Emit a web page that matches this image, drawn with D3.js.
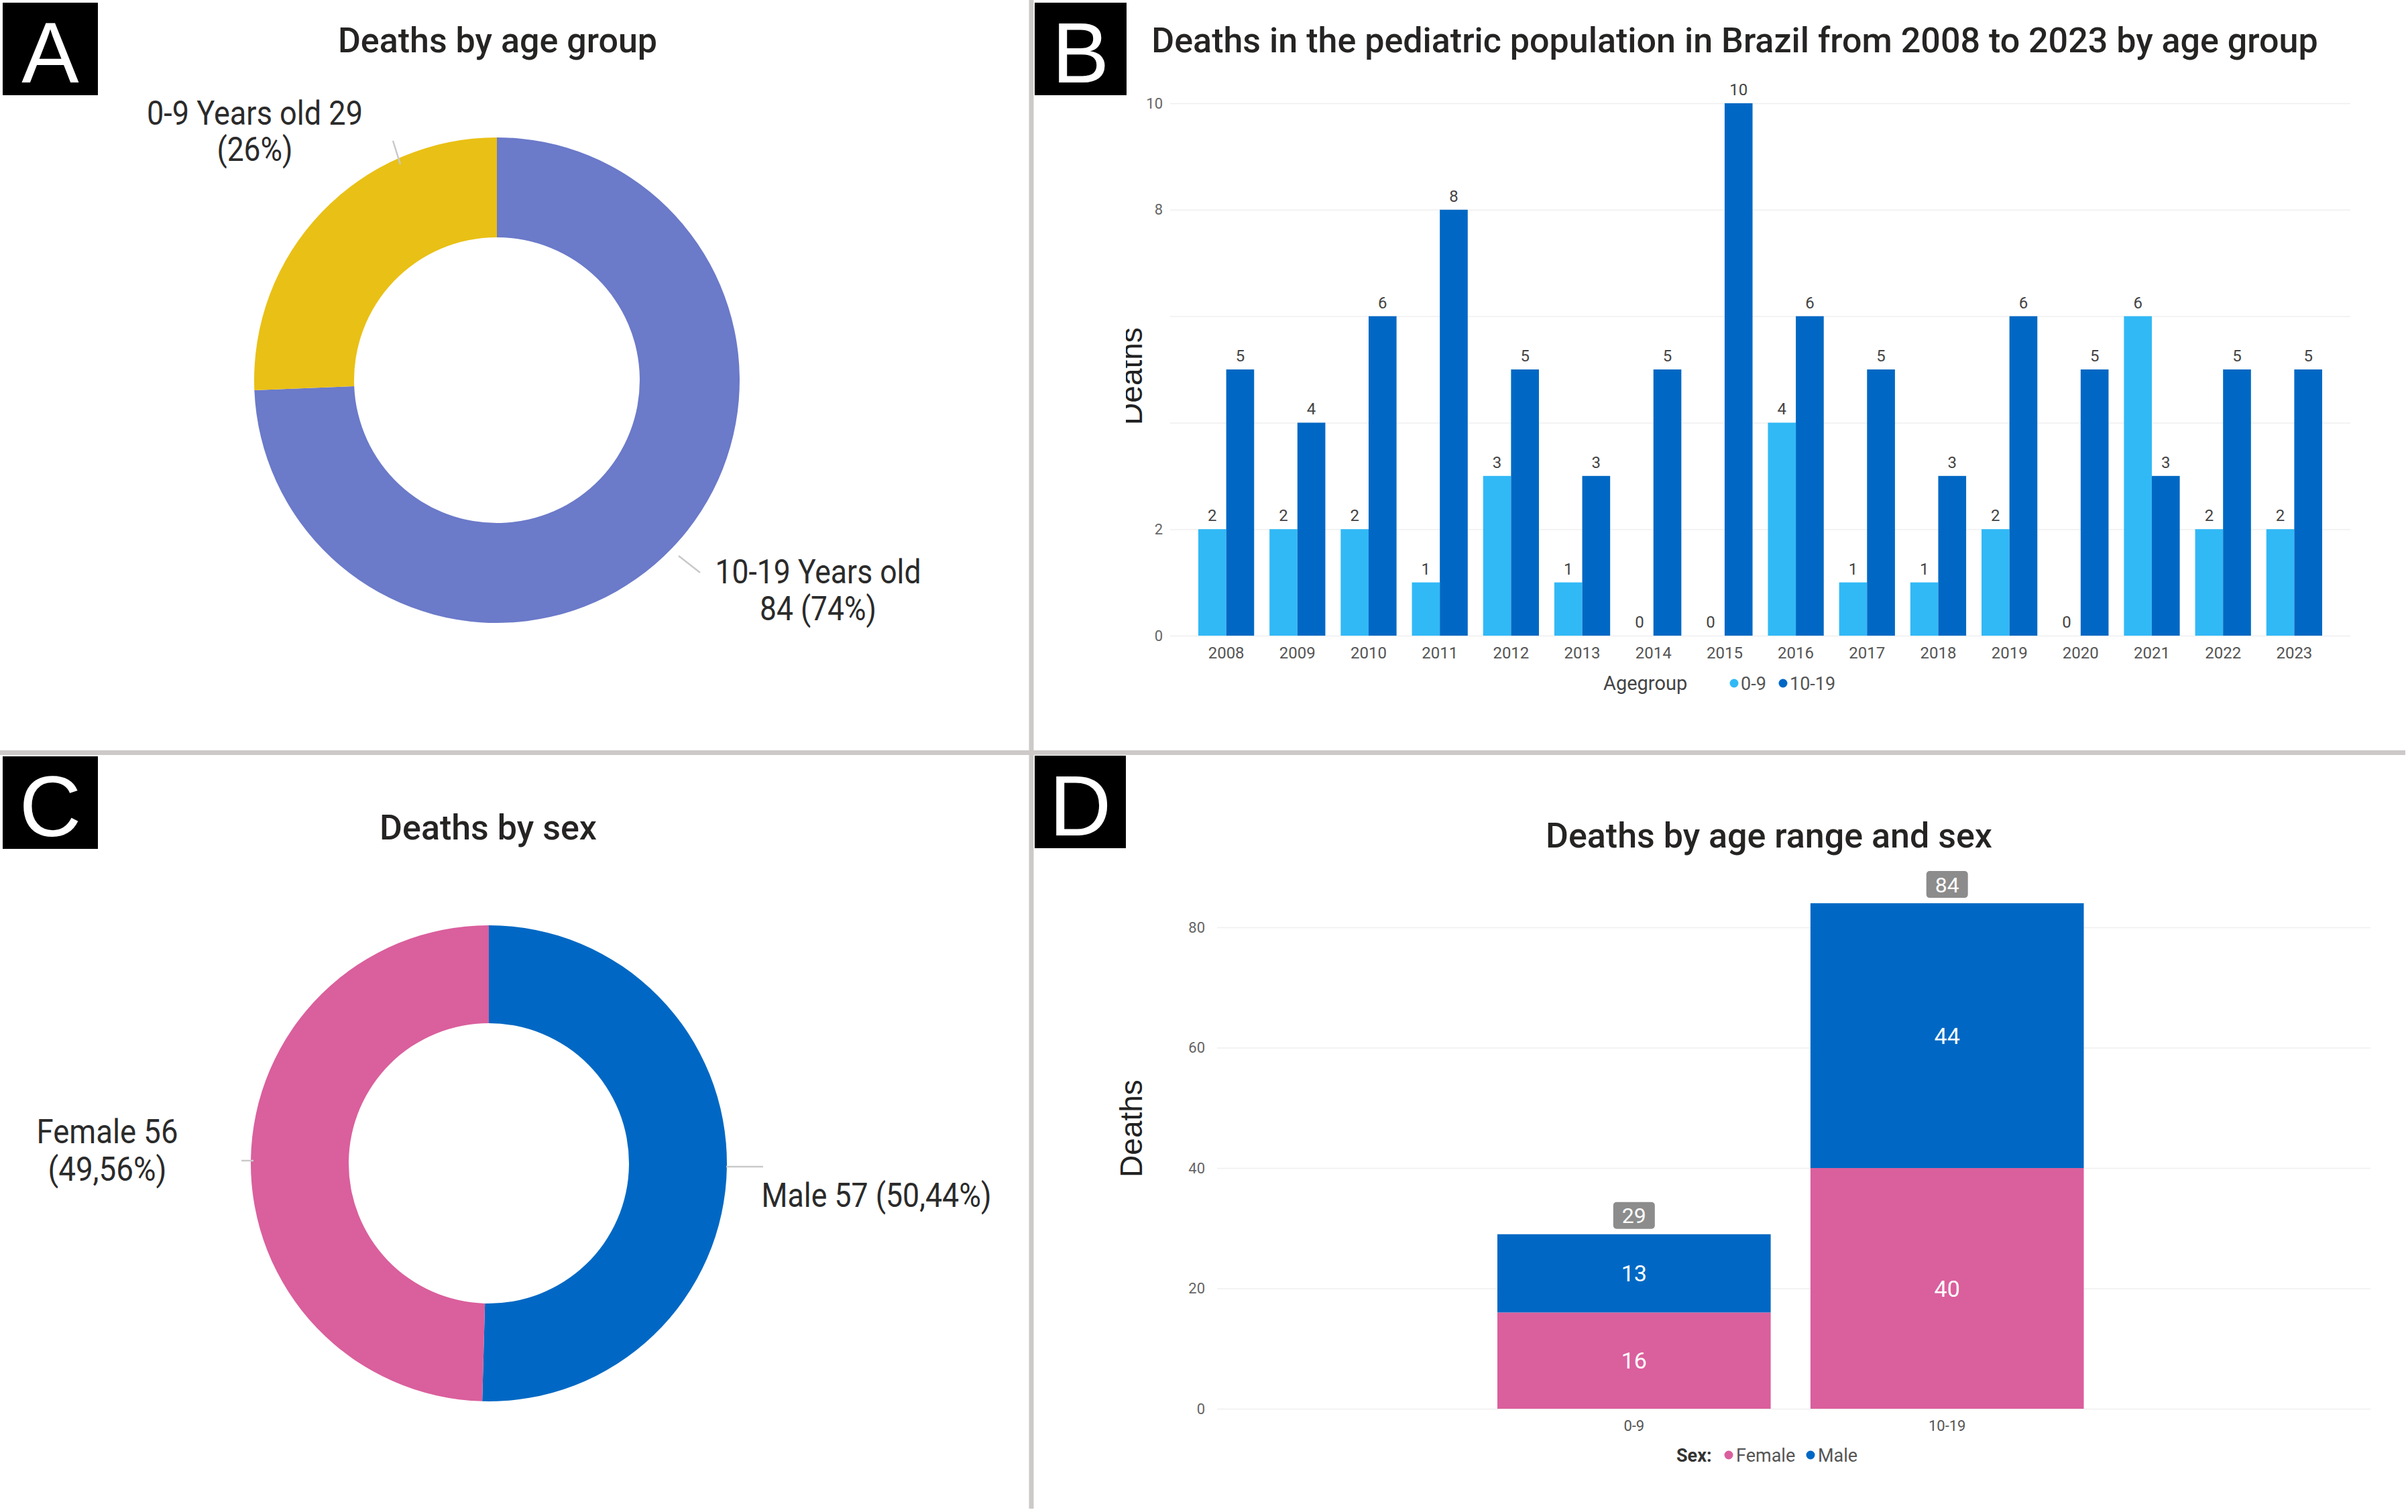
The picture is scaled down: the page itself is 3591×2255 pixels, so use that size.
<!DOCTYPE html>
<html>
<head>
<meta charset="utf-8">
<script src="https://cdn.jsdelivr.net/npm/d3@7"></script>
<style>
body { margin: 0; background: #fff; }
svg text { font-family: Roboto, "Liberation Sans", sans-serif; }
</style>
</head>
<body>
<div id="chart"></div>
<script>

var ageGroups = ["0-9", "10-19"];
var ageDeaths = [29, 84];
var agePct = ["26%", "74%"];

var sexes = ["Female", "Male"];
var sexDeaths = [56, 57];
var sexPct = ["49,56%", "50,44%"];

var years = ["2008", "2009", "2010", "2011", "2012", "2013", "2014", "2015",
             "2016", "2017", "2018", "2019", "2020", "2021", "2022", "2023"];
var deaths0to9   = [2, 2, 2, 1, 3, 1, 0, 0, 4, 1, 1, 2, 0, 6, 2, 2];
var deaths10to19 = [5, 4, 6, 8, 5, 3, 5, 10, 6, 5, 3, 6, 5, 3, 5, 5];
var yearTicks = [0, 2, 4, 6, 8, 10];
var yearTickLabels = ["0", "2", "", "", "8", "10"];

var femaleByAge = [16, 40];
var maleByAge = [13, 44];
var sexTicks = [0, 20, 40, 60, 80];

var w = 3591;
var h = 2255;
var colA = {"0-9": "#e9c015", "10-19": "#6b7ac9"};
var colSex = {"Female": "#da5f9d", "Male": "#0068c4"};
var colAge = {"0-9": "#31b9f6", "10-19": "#0068c4"};

var svg = d3.select("#chart")
    .append("svg")
    .attr("width", w)
    .attr("height", h);

svg.append("rect").attr("width", w).attr("height", h).attr("fill", "#fff");

// panel dividers
svg.append("line")
    .attr("x1", 1538).attr("x2", 1538).attr("y1", 0).attr("y2", 2250)
    .attr("stroke", "#cdc9c9").attr("stroke-width", 7);
svg.append("line")
    .attr("x1", 0).attr("x2", 3587).attr("y1", 1122.5).attr("y2", 1122.5)
    .attr("stroke", "#cdc9c9").attr("stroke-width", 7);

// panel letters
var letters = [
    {t: "A", x: 4, y: 4, w: 142},
    {t: "B", x: 1543, y: 4, w: 137},
    {t: "C", x: 4, y: 1128, w: 142},
    {t: "D", x: 1543, y: 1127, w: 136}
];
letters.forEach(function(l) {
    svg.append("rect")
        .attr("x", l.x).attr("y", l.y)
        .attr("width", l.w).attr("height", 138)
        .attr("fill", "#000");
    svg.append("text")
        .attr("x", l.x + l.w / 2).attr("y", l.y + 119)
        .attr("text-anchor", "middle")
        .attr("fill", "#fff")
        .attr("font-size", 128)
        .style("font-family", "'Liberation Sans', Arial, sans-serif")
        .text(l.t);
});

function title(txt, x, y) {
    svg.append("text")
        .attr("x", x).attr("y", y)
        .attr("text-anchor", "middle")
        .attr("fill", "#252423")
        .attr("font-size", 52)
        .attr("font-weight", 500)
        .text(txt);
}

title("Deaths by age group", 742, 78);
title("Deaths in the pediatric population in Brazil from 2008 to 2023 by age group", 2587, 78);
title("Deaths by sex", 728, 1252);
title("Deaths by age range and sex", 2638, 1264);

// ---------- A: donut by age group
var pie = d3.pie().sort(null).value(function(d) { return d.v; });

var dataA = [
    {k: ageGroups[1], v: ageDeaths[1]},
    {k: ageGroups[0], v: ageDeaths[0]}
];
var arcA = d3.arc().innerRadius(213).outerRadius(362);
var gA = svg.append("g").attr("transform", "translate(741,567)");
gA.selectAll("path")
    .data(pie(dataA))
    .enter()
    .append("path")
    .attr("d", arcA)
    .attr("fill", function(d) { return colA[d.data.k]; });

// donut labels: lines = [[text, width], ...]
function label(lines, x, y, lh) {
    var t = svg.append("text")
        .attr("fill", "#2b2b2b")
        .attr("font-size", 50)
        .attr("text-anchor", "middle");
    lines.forEach(function(s, i) {
        t.append("tspan")
            .attr("x", x).attr("y", y + i * lh)
            .attr("textLength", s[1])
            .attr("lengthAdjust", "spacingAndGlyphs")
            .text(s[0]);
    });
}

function leader(x1, y1, x2, y2) {
    svg.append("line")
        .attr("x1", x1).attr("y1", y1).attr("x2", x2).attr("y2", y2)
        .attr("stroke", "#c9c9c9").attr("stroke-width", 2.5);
}

label([[ageGroups[0] + " Years old " + ageDeaths[0], 322],
       ["(" + agePct[0] + ")", 113]], 380, 186, 54);
label([[ageGroups[1] + " Years old", 307],
       [ageDeaths[1] + " (" + agePct[1] + ")", 174]], 1220, 870, 55);
leader(586, 210, 597, 245);
leader(1012, 829, 1044, 854);

// ---------- C: donut by sex
var dataC = [
    {k: sexes[1], v: sexDeaths[1]},
    {k: sexes[0], v: sexDeaths[0]}
];
var arcC = d3.arc().innerRadius(209).outerRadius(355);
var gC = svg.append("g").attr("transform", "translate(729,1735)");
gC.selectAll("path")
    .data(pie(dataC))
    .enter()
    .append("path")
    .attr("d", arcC)
    .attr("fill", function(d) { return colSex[d.data.k]; });

label([[sexes[0] + " " + sexDeaths[0], 211],
       ["(" + sexPct[0] + ")", 177]], 160, 1705, 56);
label([[sexes[1] + " " + sexDeaths[1] + " (" + sexPct[1] + ")", 343]], 1307, 1800, 56);
leader(360, 1731, 378, 1731);
leader(1083, 1740, 1138, 1740);

// ---------- B: grouped bars by year
var xB = d3.scaleBand().domain(years).range([1787, 3463]).paddingInner(0.216);
var xSub = d3.scaleBand().domain(ageGroups).range([0, xB.bandwidth()]);
var yB = d3.scaleLinear().domain([0, 10]).range([948, 154]);

var yAxisB = d3.axisLeft(yB)
    .tickValues(yearTicks)
    .tickSize(-1760)
    .tickPadding(11)
    .tickFormat(function(d, i) { return yearTickLabels[i]; });

var gyB = svg.append("g")
    .attr("transform", "translate(1745,0)")
    .call(yAxisB);
gyB.select(".domain").remove();
gyB.selectAll("line").attr("stroke", "#efefef").attr("stroke-width", 1.5);
gyB.selectAll("text").attr("fill", "#666").attr("font-size", 22)
    .style("font-family", "Roboto, sans-serif");

var gxB = svg.append("g")
    .attr("transform", "translate(0,948)")
    .call(d3.axisBottom(xB).tickSize(0).tickPadding(17));
gxB.select(".domain").remove();
gxB.selectAll("text").attr("fill", "#555").attr("font-size", 24)
    .style("font-family", "Roboto, sans-serif");

var tableB = years.map(function(y, i) {
    return [{year: y, k: ageGroups[0], v: deaths0to9[i]},
            {year: y, k: ageGroups[1], v: deaths10to19[i]}];
});
var barsB = d3.merge(tableB);

svg.append("g").selectAll("rect")
    .data(barsB)
    .enter()
    .append("rect")
    .attr("x", function(d) { return xB(d.year) + xSub(d.k); })
    .attr("y", function(d) { return yB(d.v); })
    .attr("width", xSub.bandwidth())
    .attr("height", function(d) { return yB(0) - yB(d.v); })
    .attr("fill", function(d) { return colAge[d.k]; });

svg.append("g").selectAll("text")
    .data(barsB)
    .enter()
    .append("text")
    .attr("x", function(d) { return xB(d.year) + xSub(d.k) + xSub.bandwidth() / 2; })
    .attr("y", function(d) { return yB(d.v) - 12; })
    .attr("text-anchor", "middle")
    .attr("fill", "#444")
    .attr("font-size", 24)
    .text(function(d) { return d.v; });

// axis title is cut on its left side in the original
svg.append("clipPath").attr("id", "clipB")
    .append("rect").attr("x", 1679).attr("y", 400).attr("width", 60).attr("height", 300);
svg.append("g")
    .attr("clip-path", "url(#clipB)")
    .append("text")
    .attr("transform", "translate(1703,561) rotate(-90)")
    .attr("text-anchor", "middle")
    .attr("fill", "#222")
    .attr("font-size", 46)
    .style("font-family", "'Liberation Sans', Arial, sans-serif")
    .text("Deaths");

var legB = svg.append("g");
legB.append("text").attr("x", 2391).attr("y", 1029).attr("fill", "#444").attr("font-size", 29).text("Agegroup");
ageGroups.forEach(function(k, i) {
    var lx = [2586, 2659][i];
    legB.append("circle").attr("cx", lx).attr("cy", 1019).attr("r", 6.5).attr("fill", colAge[k]);
    legB.append("text").attr("x", lx + 10).attr("y", 1029).attr("fill", "#555").attr("font-size", 27).text(k);
});

// ---------- D: stacked bars by age and sex
var xD = d3.scaleBand().domain(ageGroups).range([2233, 3107.5]).paddingInner(0.127);
var yD = d3.scaleLinear().domain([0, 80]).range([2101, 1383]);

var yAxisD = d3.axisLeft(yD)
    .tickValues(sexTicks)
    .tickSize(-1720)
    .tickPadding(18);
var gyD = svg.append("g")
    .attr("transform", "translate(1815,0)")
    .call(yAxisD);
gyD.select(".domain").remove();
gyD.selectAll("line").attr("stroke", "#efefef").attr("stroke-width", 1.5);
gyD.selectAll("text").attr("fill", "#666").attr("font-size", 22)
    .style("font-family", "Roboto, sans-serif");

var gxD = svg.append("g")
    .attr("transform", "translate(0,2101)")
    .call(d3.axisBottom(xD).tickSize(0).tickPadding(17));
gxD.select(".domain").remove();
gxD.selectAll("text").attr("fill", "#555").attr("font-size", 22)
    .style("font-family", "Roboto, sans-serif");

var tableD = ageGroups.map(function(a, i) {
    return {age: a, Female: femaleByAge[i], Male: maleByAge[i]};
});
var stackD = d3.stack().keys(sexes)(tableD);

var layers = svg.append("g").selectAll("g")
    .data(stackD)
    .enter()
    .append("g")
    .attr("fill", function(d) { return colSex[d.key]; });

layers.selectAll("rect")
    .data(function(d) { return d; })
    .enter()
    .append("rect")
    .attr("x", function(d) { return xD(d.data.age); })
    .attr("y", function(d) { return yD(d[1]); })
    .attr("width", xD.bandwidth())
    .attr("height", function(d) { return yD(d[0]) - yD(d[1]); });

layers.selectAll("text")
    .data(function(d) { return d; })
    .enter()
    .append("text")
    .attr("x", function(d) { return xD(d.data.age) + xD.bandwidth() / 2; })
    .attr("y", function(d) { return yD((d[0] + d[1]) / 2) + 12; })
    .attr("text-anchor", "middle")
    .attr("fill", "#fff")
    .attr("font-size", 34)
    .text(function(d) { return d[1] - d[0]; });

var totals = svg.append("g").selectAll("g")
    .data(tableD)
    .enter()
    .append("g")
    .attr("transform", function(d) {
        return "translate(" + (xD(d.age) + xD.bandwidth() / 2) + "," + (yD(d.Female + d.Male) - 28) + ")";
    });
totals.append("rect")
    .attr("x", -31).attr("y", -20).attr("width", 62).attr("height", 40)
    .attr("rx", 5).attr("fill", "#8c8c8c");
totals.append("text")
    .attr("y", 11.5)
    .attr("text-anchor", "middle")
    .attr("fill", "#fff")
    .attr("font-size", 32)
    .text(function(d) { return d.Female + d.Male; });

svg.append("text")
    .attr("transform", "translate(1703,1683) rotate(-90)")
    .attr("text-anchor", "middle")
    .attr("fill", "#222")
    .attr("font-size", 46)
    .style("font-family", "'Liberation Sans', Arial, sans-serif")
    .text("Deaths");

var legD = svg.append("g");
legD.append("text").attr("x", 2500).attr("y", 2180).attr("fill", "#333")
    .attr("font-size", 27).attr("font-weight", "bold").text("Sex:");
sexes.forEach(function(k, i) {
    var lx = [2578, 2700][i];
    legD.append("circle").attr("cx", lx).attr("cy", 2170).attr("r", 6.5).attr("fill", colSex[k]);
    legD.append("text").attr("x", lx + 11).attr("y", 2180).attr("fill", "#555").attr("font-size", 27).text(k);
});

</script>
</body>
</html>
